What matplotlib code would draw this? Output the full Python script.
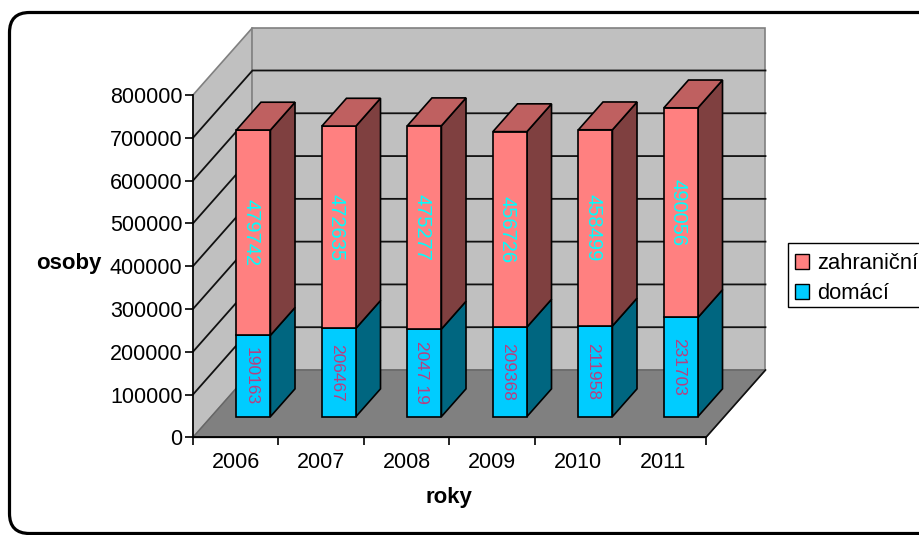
import matplotlib
matplotlib.use('Agg')
import matplotlib.pyplot as plt
from matplotlib.patches import FancyBboxPatch, Patch, Polygon, Rectangle
from matplotlib.transforms import IdentityTransform

plt.rcParams['font.family'] = ['Liberation Sans', 'DejaVu Sans']

roky = ['2006', '2007', '2008', '2009', '2010', '2011']
domaci = [190163, 206467, 204719, 209368, 211958, 231703]
zahranicni = [479742, 472635, 475277, 456726, 458499, 490056]
domaci_labels = ['190163', '206467', '2047 19', '209368', '211958', '231703']
yticks = [0, 100000, 200000, 300000, 400000, 500000, 600000, 700000, 800000]

W, H = 920, 535
fig = plt.figure(figsize=(W/100.0, H/100.0), dpi=100, facecolor='white')

# rounded outer frame runs off the right edge
frame = FancyBboxPatch((9.5, 1.5), 960, H-14, boxstyle='round,pad=0,rounding_size=20',
                       transform=IdentityTransform(), fc='white', ec='black', lw=2.3, zorder=-1)
fig.add_artist(frame)

# front plane of the 3d box
left, right, top, bottom = 193.0, 706.0, 95.0, 437.3
ax = fig.add_axes([left/W, 1-bottom/H, (right-left)/W, (bottom-top)/H])
ax.patch.set_visible(False)
ax.set_xlim(0, 6)
ax.set_ylim(0, 800000)

# box depth in data units
depth_x = 59.5/((right-left)/6)
depth_y = 67.3/(bottom-top)*800000


def pt(x, y, d=0.0):
    return (x + d*depth_x, y + d*depth_y)


def face(points, fc, ec='black', lw=1.2, z=1):
    ax.add_patch(Polygon(points, closed=True, fc=fc, ec=ec, lw=lw, zorder=z,
                         clip_on=False, joinstyle='miter'))


# walls and floor
wall = '#c0c0c0'
ymax = yticks[-1]
face([pt(0, 0), pt(0, 0, 1), pt(0, ymax, 1), pt(0, ymax)], wall, ec='#808080', lw=1.2)
face([pt(0, 0, 1), pt(6, 0, 1), pt(6, ymax, 1), pt(0, ymax, 1)], wall, ec='#808080', lw=1.2)
face([pt(0, 0), pt(6, 0), pt(6, 0, 1), pt(0, 0, 1)], '#808080', ec='#666666', lw=1.0)

for v in yticks[1:-1]:
    a, b, c = pt(0, v), pt(0, v, 1), pt(6, v, 1)
    ax.plot([a[0], b[0], c[0]], [a[1], b[1], c[1]], color='#111111', lw=1.3,
            zorder=1.5, clip_on=False, solid_joinstyle='miter')
a, b, c = pt(0, 0), pt(6, 0), pt(6, 0, 1)
ax.plot([a[0], b[0], c[0]], [a[1], b[1], c[1]], color='#111111', lw=1.2, zorder=1.6, clip_on=False)

# stacked bars, drawn left to right
bar_w = 0.398
d0, d1 = 0.307, 0.72
label_shift = 0.03  # rotated text sits off centre because of the descent
for i in range(len(roky)):
    xc = i + 0.5 - 0.007
    x0 = xc - bar_w/2
    x1 = x0 + bar_w
    y0 = 0
    y1 = domaci[i]
    y2 = y1 + zahranicni[i]
    # blue part
    face([pt(x1, y0, d0), pt(x1, y0, d1), pt(x1, y1, d1), pt(x1, y1, d0)], '#006680', z=3)
    face([pt(x0, y0, d0), pt(x1, y0, d0), pt(x1, y1, d0), pt(x0, y1, d0)], '#00ccff', z=3)
    # red part
    face([pt(x1, y1, d0), pt(x1, y1, d1), pt(x1, y2, d1), pt(x1, y2, d0)], '#7f4040', z=3)
    face([pt(x0, y1, d0), pt(x1, y1, d0), pt(x1, y2, d0), pt(x0, y2, d0)], '#ff8080', z=3)
    face([pt(x0, y2, d0), pt(x1, y2, d0), pt(x1, y2, d1), pt(x0, y2, d1)], '#bf6060', z=3)
    # value labels
    tx, ty = pt(xc - label_shift, (y0 + y1)/2.0, d0)
    ax.text(tx, ty, domaci_labels[i], rotation=-90, ha='center', va='center',
            fontsize=12.5, color='#b83f80', zorder=4)
    tx, ty = pt(xc - label_shift, (y1 + y2)/2.0, d0)
    ax.text(tx, ty, str(zahranicni[i]), rotation=-90, ha='center', va='center',
            fontsize=14.5, color='#00ffff', zorder=4)

# axes
for s in ['top', 'right']:
    ax.spines[s].set_visible(False)
for s in ['left', 'bottom']:
    ax.spines[s].set_linewidth(1.2)
    ax.spines[s].set_zorder(2)
ax.set_yticks(yticks)
ax.set_yticklabels([str(v) for v in yticks], fontsize=15.5)
ax.set_xticks(range(7))
ax.set_xticklabels([])
ax.set_xticks([i + 0.5 for i in range(6)], minor=True)
ax.set_xticklabels(roky, minor=True, fontsize=15.5)
ax.tick_params(axis='x', which='minor', length=0, pad=10.5)
ax.tick_params(axis='both', which='major', length=6, width=1.2, direction='out')
ax.tick_params(axis='y', pad=1.5)

fig.text(68.5/W, 1-264.0/H, 'osoby', fontsize=16, fontweight='bold', ha='center', va='center')
fig.text(449.0/W, 1-497.0/H, 'roky', fontsize=16, fontweight='bold', ha='center', va='center')

# legend box is cut by the right edge like in the original
fig.add_artist(Rectangle((787.5, H-307.0), 200, 64, transform=IdentityTransform(),
                         fc='white', ec='black', lw=1.0))
handles = [Patch(fc='#ff8080', ec='black', lw=1.0, label='zahraniční'),
           Patch(fc='#00ccff', ec='black', lw=1.0, label='domácí')]
leg = fig.legend(handles=handles, loc='upper left', bbox_to_anchor=(787.5/W, 1-246.0/H),
                 fontsize=15.8, frameon=False, handlelength=0.65, handleheight=0.65,
                 handletextpad=0.36, labelspacing=0.4, borderaxespad=0, borderpad=0.34)
leg.set_zorder(5)

fig.savefig('out.png', dpi=100)
